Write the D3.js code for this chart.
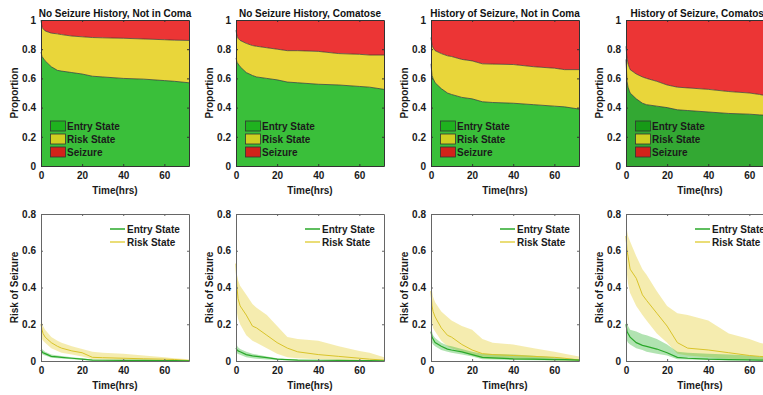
<!DOCTYPE html>
<html><head><meta charset="utf-8">
<script src="https://cdn.jsdelivr.net/npm/d3@7"></script>
<style>
html,body{margin:0;padding:0;background:#fff;overflow:hidden}
svg{display:block;font-family:"Liberation Sans",Arial,sans-serif}
</style></head>
<body>
<svg id="c" width="763" height="395"></svg>
<script>
// ---- data ----
const hours = [0, 0.5, 1, 2, 5, 8, 10, 15, 20, 25, 30, 40, 50, 60, 65, 72];
const titles = ["No Seizure History, Not in Coma", "No Seizure History, Comatose", "History of Seizure, Not in Coma", "History of Seizure, Comatose"];
const xTicks = [0, 20, 40, 60];
const propTicks = [0, 0.2, 0.4, 0.6, 0.8, 1];
const riskTicks = [0, 0.2, 0.4, 0.6, 0.8];
const stateNames = ["Entry State", "Risk State", "Seizure"];
const riskNames = ["Entry State", "Risk State"];

// top: cumulative proportion in Entry state, and Entry+Risk (1 - Seizure)
const entryProp1 = [0.78, 0.75, 0.74, 0.72, 0.68, 0.655, 0.65, 0.64, 0.63, 0.615, 0.61, 0.60, 0.595, 0.585, 0.58, 0.57];
const riskTop1   = [1.0, 0.95, 0.94, 0.925, 0.91, 0.905, 0.90, 0.89, 0.885, 0.88, 0.878, 0.875, 0.87, 0.865, 0.862, 0.86];
const entryProp2 = [0.74, 0.71, 0.70, 0.68, 0.64, 0.62, 0.61, 0.60, 0.59, 0.575, 0.57, 0.56, 0.555, 0.545, 0.54, 0.525];
const riskTop2   = [0.93, 0.89, 0.875, 0.86, 0.84, 0.825, 0.82, 0.81, 0.80, 0.79, 0.79, 0.785, 0.77, 0.765, 0.76, 0.76];
const entryProp3 = [0.70, 0.62, 0.60, 0.57, 0.53, 0.50, 0.49, 0.47, 0.46, 0.44, 0.435, 0.43, 0.42, 0.41, 0.405, 0.39];
const riskTop3   = [0.88, 0.83, 0.81, 0.79, 0.77, 0.755, 0.75, 0.73, 0.72, 0.70, 0.698, 0.695, 0.68, 0.67, 0.66, 0.66];
const entryProp4 = [0.73, 0.58, 0.54, 0.50, 0.46, 0.43, 0.42, 0.41, 0.40, 0.385, 0.38, 0.37, 0.36, 0.355, 0.35, 0.345];
const riskTop4   = [0.82, 0.74, 0.70, 0.66, 0.63, 0.61, 0.60, 0.58, 0.555, 0.54, 0.535, 0.525, 0.51, 0.50, 0.49, 0.47];

// bottom: risk of seizure with bands
const riskLine1 = [0.20, 0.17, 0.15, 0.13, 0.10, 0.08, 0.07, 0.055, 0.045, 0.02, 0.018, 0.015, 0.012, 0.01, 0.008, 0.002];
const riskHi1   = [0.26, 0.21, 0.19, 0.17, 0.13, 0.11, 0.10, 0.08, 0.065, 0.05, 0.045, 0.04, 0.03, 0.02, 0.015, 0.01];
const riskLo1   = [0.15, 0.12, 0.11, 0.10, 0.07, 0.055, 0.045, 0.035, 0.025, 0.01, 0.008, 0.005, 0.004, 0.003, 0.002, 0.0];
const entLine1  = [0.06, 0.05, 0.045, 0.04, 0.025, 0.022, 0.02, 0.015, 0.01, 0.005, 0.004, 0.003, 0.003, 0.002, 0.002, 0.001];
const entHi1    = [0.075, 0.065, 0.06, 0.05, 0.035, 0.03, 0.027, 0.02, 0.015, 0.008, 0.007, 0.005, 0.005, 0.004, 0.003, 0.002];
const entLo1    = [0.045, 0.038, 0.034, 0.03, 0.018, 0.015, 0.013, 0.01, 0.006, 0.003, 0.002, 0.001, 0.001, 0.001, 0.001, 0];

const riskLine2 = [0.53, 0.40, 0.34, 0.30, 0.25, 0.19, 0.18, 0.14, 0.10, 0.07, 0.05, 0.035, 0.025, 0.015, 0.01, 0.005];
const riskHi2   = [0.55, 0.47, 0.44, 0.41, 0.36, 0.31, 0.29, 0.25, 0.19, 0.13, 0.12, 0.11, 0.08, 0.055, 0.045, 0.02];
const riskLo2   = [0.30, 0.26, 0.23, 0.20, 0.14, 0.11, 0.10, 0.07, 0.04, 0.02, 0.015, 0.01, 0.006, 0.004, 0.002, 0.0];
const entLine2  = [0.07, 0.06, 0.055, 0.05, 0.035, 0.028, 0.025, 0.018, 0.01, 0.007, 0.005, 0.004, 0.003, 0.002, 0.002, 0.001];
const entHi2    = [0.10, 0.085, 0.075, 0.065, 0.05, 0.04, 0.035, 0.025, 0.015, 0.01, 0.008, 0.006, 0.005, 0.004, 0.003, 0.002];
const entLo2    = [0.05, 0.042, 0.038, 0.034, 0.02, 0.015, 0.012, 0.008, 0.005, 0.003, 0.002, 0.001, 0.001, 0.001, 0.001, 0];

const riskLine3 = [0.38, 0.30, 0.27, 0.24, 0.18, 0.14, 0.13, 0.09, 0.06, 0.04, 0.035, 0.03, 0.025, 0.02, 0.015, 0.005];
const riskHi3   = [0.47, 0.38, 0.35, 0.32, 0.27, 0.24, 0.22, 0.19, 0.17, 0.12, 0.10, 0.09, 0.07, 0.05, 0.04, 0.025];
const riskLo3   = [0.27, 0.21, 0.18, 0.16, 0.11, 0.08, 0.07, 0.05, 0.03, 0.015, 0.012, 0.01, 0.006, 0.004, 0.002, 0.0];
const entLine3  = [0.16, 0.13, 0.12, 0.10, 0.08, 0.065, 0.06, 0.05, 0.035, 0.02, 0.017, 0.012, 0.01, 0.008, 0.007, 0.005];
const entHi3    = [0.20, 0.16, 0.14, 0.125, 0.10, 0.085, 0.08, 0.065, 0.05, 0.04, 0.038, 0.035, 0.028, 0.02, 0.015, 0.01];
const entLo3    = [0.12, 0.10, 0.09, 0.08, 0.06, 0.05, 0.045, 0.035, 0.025, 0.01, 0.008, 0.005, 0.004, 0.003, 0.002, 0.001];

const riskLine4 = [0.68, 0.60, 0.57, 0.50, 0.45, 0.36, 0.33, 0.26, 0.19, 0.10, 0.07, 0.06, 0.045, 0.03, 0.025, 0.02];
const riskHi4   = [0.80, 0.71, 0.68, 0.65, 0.57, 0.50, 0.47, 0.38, 0.30, 0.26, 0.25, 0.22, 0.15, 0.12, 0.10, 0.08];
const riskLo4   = [0.55, 0.47, 0.42, 0.37, 0.30, 0.25, 0.22, 0.15, 0.10, 0.04, 0.03, 0.02, 0.012, 0.008, 0.006, 0.005];
const entLine4  = [0.20, 0.16, 0.15, 0.13, 0.10, 0.085, 0.08, 0.065, 0.045, 0.02, 0.015, 0.01, 0.008, 0.006, 0.005, 0.005];
const entHi4    = [0.27, 0.21, 0.19, 0.17, 0.16, 0.145, 0.14, 0.12, 0.09, 0.05, 0.045, 0.04, 0.035, 0.03, 0.025, 0.02];
const entLo4    = [0.15, 0.11, 0.10, 0.09, 0.07, 0.06, 0.05, 0.04, 0.03, 0.01, 0.008, 0.005, 0.003, 0.002, 0.002, 0.001];

const tops = [[entryProp1, riskTop1], [entryProp2, riskTop2], [entryProp3, riskTop3], [entryProp4, riskTop4]];
const bottoms = [
  [entLine1, entHi1, entLo1, riskLine1, riskHi1, riskLo1],
  [entLine2, entHi2, entLo2, riskLine2, riskHi2, riskLo2],
  [entLine3, entHi3, entLo3, riskLine3, riskHi3, riskLo3],
  [entLine4, entHi4, entLo4, riskLine4, riskHi4, riskLo4]
];

// ---- drawing ----
const svg = d3.select("#c");
const panelDX = 195, plotX = 41, plotW = 148;
const topY0 = 20, topY1 = 166, botY0 = 214, botY1 = 361;
const fillCols = ["#3abf3a", "#e9d63a", "#ec3535"];
const legCols = ["#1fb21f", "#cfcf22", "#d2231a"];

function fmt(v){ return v === 0 ? "0" : (v === 1 ? "1" : d3.format(".1f")(v)); }

function axes(g, x, y, yTicks, axisCol, full){
  const ax = g.append("g").attr("transform", `translate(0,${y.range()[0]})`)
    .call(d3.axisBottom(x).tickValues(xTicks).tickSizeInner(-2).tickSizeOuter(0).tickPadding(6).tickFormat(d3.format("d")));
  const ay = g.append("g").attr("transform", `translate(${x.range()[0]},0)`)
    .call(d3.axisLeft(y).tickValues(yTicks).tickSizeInner(-2).tickSizeOuter(0).tickPadding(5).tickFormat(fmt));
  [ax, ay].forEach(a => {
    a.select(".domain").attr("stroke", axisCol).attr("stroke-width", 1);
    a.selectAll(".tick line").attr("stroke", axisCol);
    a.selectAll("text").attr("fill", "#1a1a1a").attr("font-size", 10).attr("font-weight", "bold");
  });
  if (full) {
    const at = g.append("g").attr("transform", `translate(0,${y.range()[1]})`)
      .call(d3.axisTop(x).tickValues(xTicks).tickSizeInner(-2).tickSizeOuter(0).tickFormat(""));
    const ar = g.append("g").attr("transform", `translate(${x.range()[1]},0)`)
      .call(d3.axisRight(y).tickValues(yTicks).tickSizeInner(-2).tickSizeOuter(0).tickFormat(""));
    [at, ar].forEach(a => {
      a.select(".domain").attr("stroke", axisCol).attr("stroke-width", 1);
      a.selectAll(".tick line").attr("stroke", axisCol);
    });
  }
}

titles.forEach((title, i) => {
  const ox = i * panelDX;
  const x = d3.scaleLinear().domain([0, 72]).range([ox + plotX, ox + plotX + plotW]);
  const yT = d3.scaleLinear().domain([0, 1]).range([topY1, topY0]);
  const yB = d3.scaleLinear().domain([0, 0.8]).range([botY1, botY0]);
  const g = svg.append("g");
  const [ent, top] = tops[i];
  const idx = d3.range(hours.length);

  // ---- top stacked areas ----
  const green = i === 3 ? "#33a833" : fillCols[0];
  const aRed = d3.area().x(k => x(hours[k])).y0(k => yT(top[k])).y1(() => yT(1));
  const aYel = d3.area().x(k => x(hours[k])).y0(k => yT(ent[k])).y1(k => yT(top[k]));
  const aGrn = d3.area().x(k => x(hours[k])).y0(() => yT(0)).y1(k => yT(ent[k]));
  g.append("path").datum(idx).attr("d", aRed).attr("fill", fillCols[2]);
  g.append("path").datum(idx).attr("d", aYel).attr("fill", fillCols[1]);
  g.append("path").datum(idx).attr("d", aGrn).attr("fill", green);
  const ln = arr => d3.line().x(k => x(hours[k])).y(k => yT(arr[k]));
  g.append("path").datum(idx).attr("d", ln(ent)).attr("fill", "none").attr("stroke", "#333").attr("stroke-width", 0.7);
  g.append("path").datum(idx).attr("d", ln(top)).attr("fill", "none").attr("stroke", "#333").attr("stroke-width", 0.7);
  axes(g, x, yT, propTicks, "#333", true);

  g.append("text").attr("x", x(36)).attr("y", 17).attr("text-anchor", "middle")
    .attr("font-size", 10).attr("font-weight", "bold").attr("fill", "#111").text(title);
  g.append("text").attr("x", x(36)).attr("y", 194).attr("text-anchor", "middle")
    .attr("font-size", 10).attr("font-weight", "bold").attr("fill", "#1a1a1a").text("Time(hrs)");
  g.append("text").attr("transform", `translate(${ox + 18},${(topY0 + topY1) / 2}) rotate(-90)`)
    .attr("text-anchor", "middle").attr("font-size", 10).attr("font-weight", "bold").attr("fill", "#1a1a1a").text("Proportion");

  // legend top
  stateNames.forEach((nm, j) => {
    const ly = 121 + j * 13;
    g.append("rect").attr("x", ox + 50.5).attr("y", ly).attr("width", 15).attr("height", 10)
      .attr("fill", i === 3 && j === 0 ? "#179a17" : legCols[j]).attr("stroke", "#333").attr("stroke-width", 0.8);
    g.append("text").attr("x", ox + 67).attr("y", ly + 9).attr("font-size", 10).attr("font-weight", "bold")
      .attr("fill", "#1a1a1a").text(nm);
  });

  // ---- bottom risk curves ----
  const [eL, eH, eLo, rL, rH, rLo] = bottoms[i];
  const band = (hi, lo) => d3.area().x(k => x(hours[k])).y0(k => yB(lo[k])).y1(k => yB(hi[k]));
  const line = arr => d3.line().x(k => x(hours[k])).y(k => yB(arr[k]));
  g.append("path").datum(idx).attr("d", band(rH, rLo)).attr("fill", "#efe07a").attr("fill-opacity", 0.6);
  g.append("path").datum(idx).attr("d", band(eH, eLo)).attr("fill", "#3db83d").attr("fill-opacity", 0.4);
  g.append("path").datum(idx).attr("d", line(rL)).attr("fill", "none").attr("stroke", "#d9c42a").attr("stroke-width", 1);
  g.append("path").datum(idx).attr("d", line(eL)).attr("fill", "none").attr("stroke", "#2aa82a").attr("stroke-width", 1.2);
  axes(g, x, yB, riskTicks, "#666", true);

  g.append("text").attr("x", x(36)).attr("y", 389).attr("text-anchor", "middle")
    .attr("font-size", 10).attr("font-weight", "bold").attr("fill", "#1a1a1a").text("Time(hrs)");
  g.append("text").attr("transform", `translate(${ox + 18},${(botY0 + botY1) / 2}) rotate(-90)`)
    .attr("text-anchor", "middle").attr("font-size", 10).attr("font-weight", "bold").attr("fill", "#1a1a1a").text("Risk of Seizure");

  const lcols = ["#2aa82a", "#e3d24a"];
  riskNames.forEach((nm, j) => {
    const ly = 229 + j * 13;
    g.append("line").attr("x1", ox + 110).attr("x2", ox + 125).attr("y1", ly).attr("y2", ly)
      .attr("stroke", lcols[j]).attr("stroke-width", 1.5);
    g.append("text").attr("x", ox + 127).attr("y", ly + 3.5).attr("font-size", 10).attr("font-weight", "bold")
      .attr("fill", "#1a1a1a").text(nm);
  });
});
</script>
</body></html>
